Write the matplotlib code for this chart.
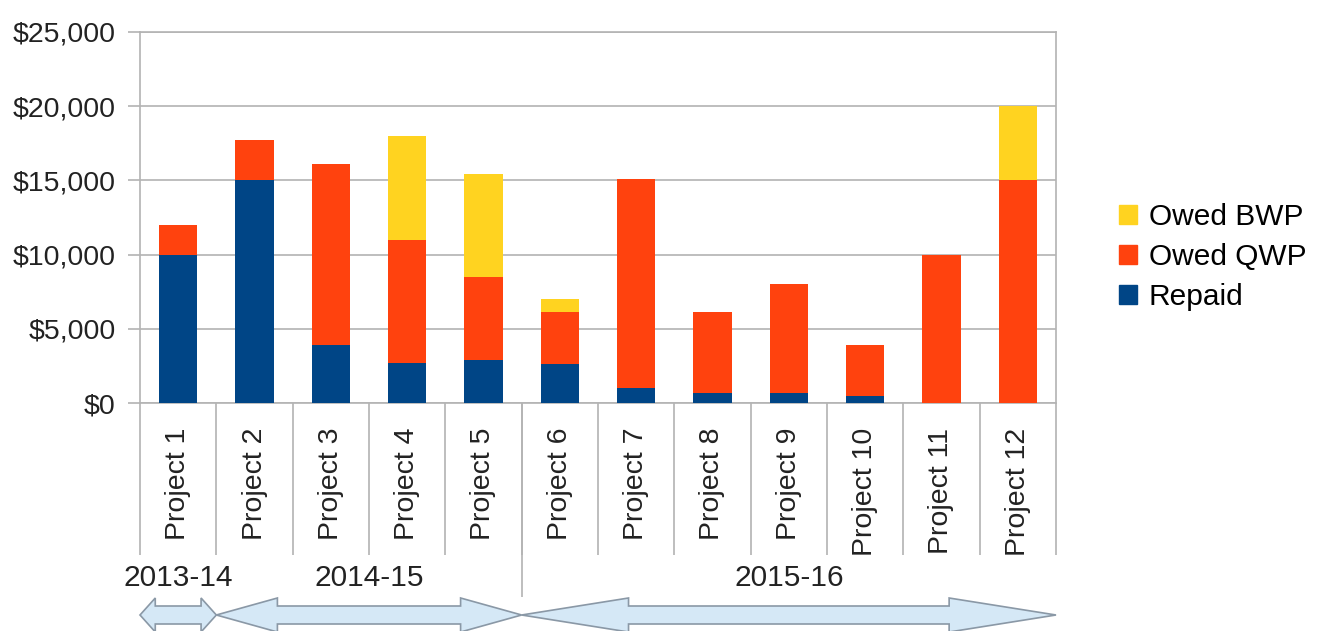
import numpy as np
import matplotlib
matplotlib.use("Agg")
import matplotlib.pyplot as plt
from matplotlib.patches import Polygon, Patch
from matplotlib.transforms import blended_transform_factory

# data
projects = ["Project 1", "Project 2", "Project 3", "Project 4", "Project 5", "Project 6",
            "Project 7", "Project 8", "Project 9", "Project 10", "Project 11", "Project 12"]
repaid = [10000, 15000, 3900, 2700, 2900, 2600, 1000, 700, 700, 500, 0, 0]
owed_qwp = [2000, 2700, 12200, 8300, 5600, 3500, 14100, 5400, 7300, 3400, 10000, 15000]
owed_bwp = [0, 0, 0, 7000, 6900, 900, 0, 0, 0, 0, 0, 5000]
years = ["2013-14", "2014-15", "2015-16"]
year_counts = [1, 4, 7]
yticks = [0, 5000, 10000, 15000, 20000, 25000]

c_repaid = "#004586"
c_qwp = "#ff420e"
c_bwp = "#ffd320"
grid_c = "#b3b3b3"
txt_c = "#222222"

plt.rcParams['font.family'] = ['Liberation Sans', 'DejaVu Sans']

W, H = 1319, 631
fig = plt.figure(figsize=(W / 100, H / 100), dpi=100)
ax = fig.add_axes([140 / W, 1 - 403 / H, (1056 - 140) / W, (403 - 32) / H])

x = np.arange(len(projects))
bw = 0.5
ax.bar(x, repaid, bw, color=c_repaid, label="Repaid", zorder=3)
ax.bar(x, owed_qwp, bw, bottom=repaid, color=c_qwp, label="Owed QWP", zorder=3)
ax.bar(x, owed_bwp, bw, bottom=np.add(repaid, owed_qwp), color=c_bwp, label="Owed BWP", zorder=3)

ax.set_xlim(-0.5, len(projects) - 0.5)
ax.set_ylim(0, 25000)
ax.set_yticks(yticks)
ax.set_yticklabels(["${:,}".format(v) for v in yticks], fontsize=20.5, color=txt_c)
ax.yaxis.grid(True, color=grid_c, linewidth=1.2, zorder=0)
ax.tick_params(axis='y', length=8.6, color=grid_c, width=1.2, pad=9)
for s in ax.spines.values():
    s.set_color(grid_c)
    s.set_linewidth(1.2)

ax.set_xticks(x)
ax.set_xticklabels(projects, rotation=90, fontsize=20.5, va='top', color=txt_c)
ax.tick_params(axis='x', length=0, pad=18)

# category separators under the axis
tr = blended_transform_factory(ax.transData, fig.transFigure)
bounds = np.arange(len(projects) + 1) - 0.5
ax.vlines(bounds, 1 - 555 / H, 1 - 403 / H, transform=tr, colors=grid_c, linewidth=1.2, clip_on=False)
edges = np.cumsum([0] + year_counts) - 0.5
ax.vlines(edges[2], 1 - 597 / H, 1 - 403 / H, transform=tr, colors=grid_c, linewidth=1.2, clip_on=False)

# year labels and arrows
yc = 1 - 615 / H
hh = 17 / H
bh = 9 / H
for name, a, b in zip(years, edges[:-1], edges[1:]):
    ax.text((a + b) / 2, 1 - 578 / H, name, transform=tr, ha='center', va='center',
            fontsize=21.5, color=txt_c)
    hl = 0.2 * (b - a)
    pts = [(a, yc), (a + hl, yc + hh), (a + hl, yc + bh), (b - hl, yc + bh), (b - hl, yc + hh),
           (b, yc), (b - hl, yc - hh), (b - hl, yc - bh), (a + hl, yc - bh), (a + hl, yc - hh)]
    ax.add_patch(Polygon(pts, closed=True, transform=tr, facecolor="#d5e8f6",
                         edgecolor="#8a98a6", linewidth=1.2, clip_on=False))

handles = [Patch(color=c_bwp), Patch(color=c_qwp), Patch(color=c_repaid)]
fig.legend(handles, ["Owed BWP", "Owed QWP", "Repaid"], loc='center left',
           bbox_to_anchor=(1092 / W, 1 - 257 / H), frameon=False, fontsize=21.5,
           handlelength=0.6, handleheight=0.6, handletextpad=0.4, labelspacing=0.4)

fig.savefig("out.png", dpi=100)
